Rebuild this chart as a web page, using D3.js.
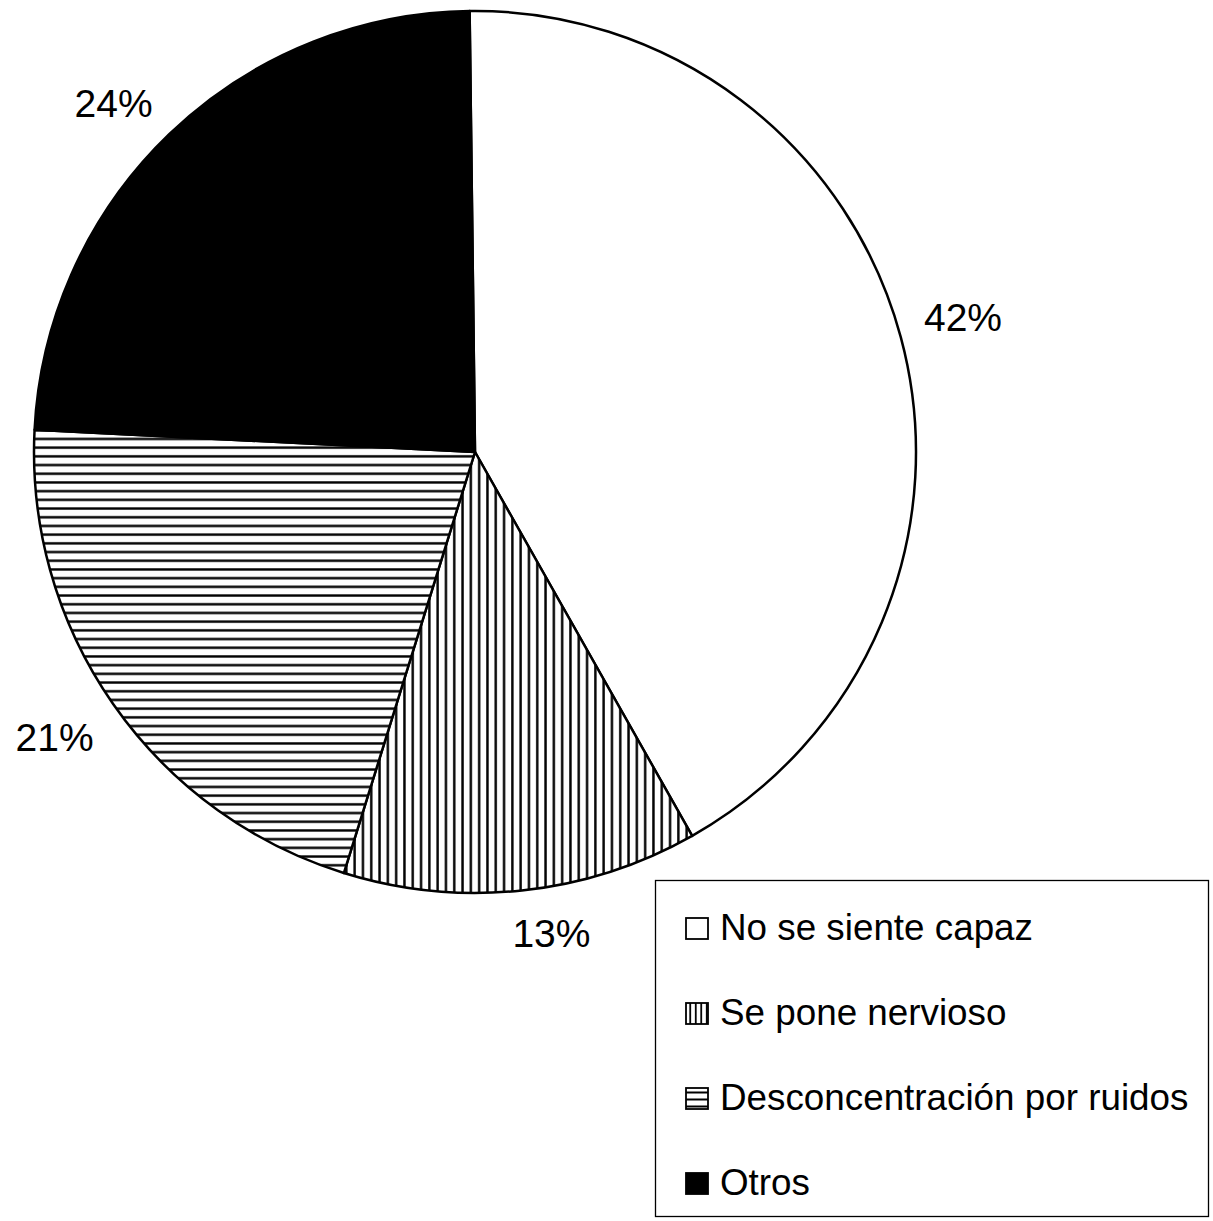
<!DOCTYPE html>
<html>
<head>
<meta charset="utf-8">
<script src="https://cdn.jsdelivr.net/npm/d3@7"></script>
<style>
  html, body { margin: 0; padding: 0; background: #fff; }
  svg { display: block; }
  text { font-family: "Liberation Sans", Arial, sans-serif; fill: #000; }
</style>
</head>
<body>
<svg id="chart" width="1213" height="1221"></svg>
<script>
const categories = ["No se siente capaz", "Se pone nervioso", "Desconcentración por ruidos", "Otros"];
const values = [42, 13, 21, 24];
const labels = ["42%", "13%", "21%", "24%"];
const fills = ["white", "url(#vstripe)", "url(#hstripe)", "black"];
const legendFills = ["white", "url(#vstripeS)", "url(#hstripeS)", "black"];

const W = 1213, H = 1221;
const cx = 475, cy = 452, r = 441;
const tilt = -0.7 * Math.PI / 180;

const svg = d3.select("#chart");
svg.append("rect").attr("width", W).attr("height", H).attr("fill", "#fff");

const defs = svg.append("defs");
function stripe(id, size, vertical, sw) {
  const p = defs.append("pattern").attr("id", id).attr("patternUnits", "userSpaceOnUse")
    .attr("width", size).attr("height", size);
  p.append("rect").attr("width", size).attr("height", size).attr("fill", "#fff");
  if (vertical) p.append("line").attr("x1", size / 2).attr("x2", size / 2).attr("y1", 0).attr("y2", size)
    .attr("stroke", "#000").attr("stroke-width", sw);
  else p.append("line").attr("y1", size / 2).attr("y2", size / 2).attr("x1", 0).attr("x2", size)
    .attr("stroke", "#000").attr("stroke-width", sw);
}
stripe("vstripe", 8.3, true, 2.4);
stripe("hstripe", 8.7, false, 2.4);
stripe("vstripeS", 5.5, true, 1.8);
stripe("hstripeS", 7, false, 2);

const pie = d3.pie().sort(null).value(d => d).startAngle(tilt).endAngle(2 * Math.PI + tilt);
const arcs = pie(values);
const arc = d3.arc().innerRadius(0).outerRadius(r);

const g = svg.append("g").attr("transform", `translate(${cx},${cy})`);
g.selectAll("path.slice").data(arcs).enter().append("path")
  .attr("class", "slice")
  .attr("d", arc)
  .attr("fill", (d, i) => fills[i])
  .attr("stroke", "#000")
  .attr("stroke-width", 2.5)
  .attr("stroke-linejoin", "round");

const labelR = 465;
g.selectAll("text.lbl").data(arcs).enter().append("text")
  .attr("class", "lbl")
  .each(function (d, i) {
    const a = (d.startAngle + d.endAngle) / 2;
    const x = labelR * Math.sin(a), y = -labelR * Math.cos(a);
    const t = d3.select(this);
    t.attr("x", x).attr("y", y)
      .attr("text-anchor", Math.sin(a) >= 0 ? "start" : "end")
      .attr("dominant-baseline", Math.cos(a) >= 0 ? "alphabetic" : "text-before-edge")
      .attr("dx", Math.abs(Math.sin(a)) < 0.3 ? -12 : 0)
      .attr("dy", Math.cos(a) >= 0 ? 0 : -2)
      .style("font-size", "39px")
      .text(labels[i]);
  });

// Legend
const lg = svg.append("g");
lg.append("rect").attr("x", 655.5).attr("y", 880.5).attr("width", 553).attr("height", 336)
  .attr("fill", "#fff").attr("stroke", "#000").attr("stroke-width", 1.3);
const items = lg.selectAll("g.item").data(categories).enter().append("g")
  .attr("class", "item")
  .attr("transform", (d, i) => `translate(0,${940 + i * 85})`);
items.append("rect").attr("x", 686).attr("y", -22).attr("width", 22).attr("height", 21)
  .attr("fill", (d, i) => legendFills[i]).attr("stroke", "#000").attr("stroke-width", 1.8);
items.append("text").attr("x", 720).attr("y", 0).style("font-size", "36.8px").text(d => d);
</script>
</body>
</html>
